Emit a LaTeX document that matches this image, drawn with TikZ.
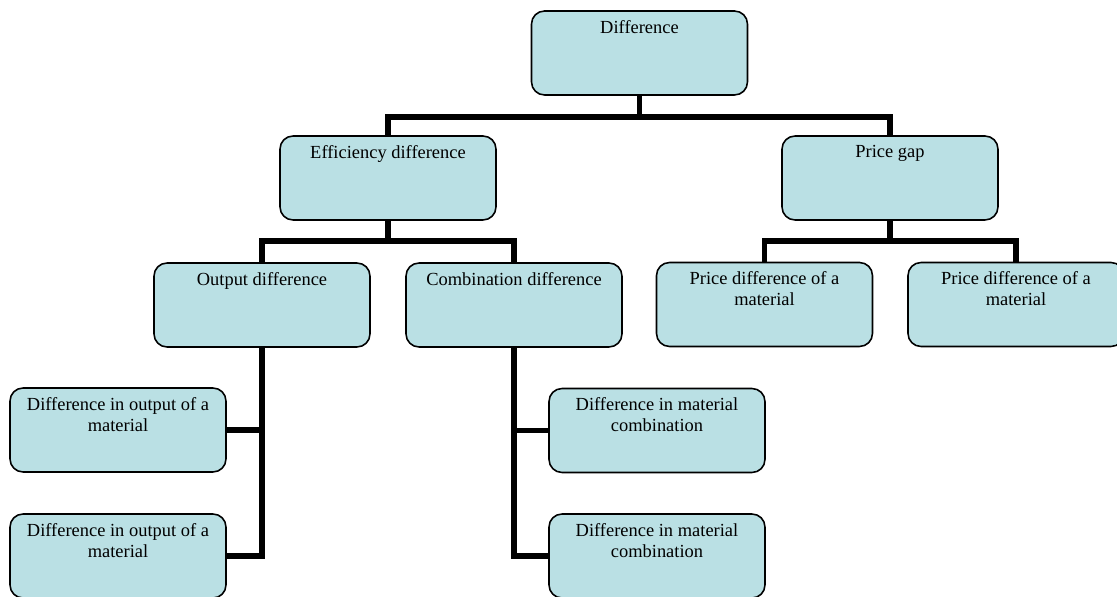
\documentclass[tikz,border=0pt]{standalone}
\usepackage{fontspec}
\setmainfont{Liberation Serif}
\definecolor{boxfill}{RGB}{186,224,228}
\tikzset{
	box/.style={draw=black, line width=0.9pt, fill=boxfill, rounded corners=0.26cm,
		minimum width=4.32cm, minimum height=1.68cm, inner sep=0pt},
	boxtext/.style={anchor=north, yshift=-0.19cm, inner sep=0pt, text width=4.1cm,
		align=flush center, font=\fontsize{10.5}{12}\selectfont},
	bar/.style={line width=3.2pt, line join=miter},
}
\begin{document}
\begin{tikzpicture}[x=0.02cm, y=-0.02cm]
		%%%%% START %%%%%
		\useasboundingbox (0, 0) rectangle (1117, 597);
		\clip (0, 0) rectangle (1117, 597);
		
		\node[box, label={[boxtext]north:{Difference}}] (diff) at (639.5, 53) {};
		
		\node[box, label={[boxtext]north:{Efficiency difference}}] (eff) at (388, 178) {};
		\node[box, label={[boxtext]north:{Price gap}}] (gap) at (890, 178) {};
		
		\node[box, label={[boxtext]north:{Output difference}}] (out) at (262, 305) {};
		\node[box, label={[boxtext]north:{Combination difference}}] (comb) at (514, 305) {};
		\node[box, label={[boxtext]north:{Price difference of a material}}] (price1) at (764.5, 304.5) {};
		\node[box, label={[boxtext]north:{Price difference of a material}}] (price2) at (1016, 304.5) {};
		
		\node[box, label={[boxtext]north:{Difference in output of a material}}] (outmat1) at (118, 430) {};
		\node[box, label={[boxtext]north:{Difference in output of a material}}] (outmat2) at (118, 556) {};
		\node[box, label={[boxtext]north:{Difference in material combination}}] (combmat1) at (657, 430.5) {};
		\node[box, label={[boxtext]north:{Difference in material combination}}] (combmat2) at (657, 556) {};
		
		\draw[bar] (diff.south) -- ++(0, 21) coordinate (topbus);
		\draw[bar] (eff.north) |- (topbus) -| (gap.north);
		
		\draw[bar] (eff.south) -- ++(0, 20) coordinate (effbus);
		\draw[bar] (out.north) |- (effbus) -| (comb.north);
		
		\draw[bar] (gap.south) -- ++(0, 20) coordinate (gapbus);
		\draw[bar] (price1.north) |- (gapbus) -| (price2.north);
		
		\draw[bar] (out.south) |- (outmat2.east);
		\draw[bar] (outmat1.east) -- (outmat1.east -| out.south);
		
		\draw[bar] (comb.south) |- (combmat2.west);
		\draw[bar] (combmat1.west) -- (combmat1.west -| comb.south);
		
		%%%%% END %%%%%
	\end{tikzpicture}
\end{document}
